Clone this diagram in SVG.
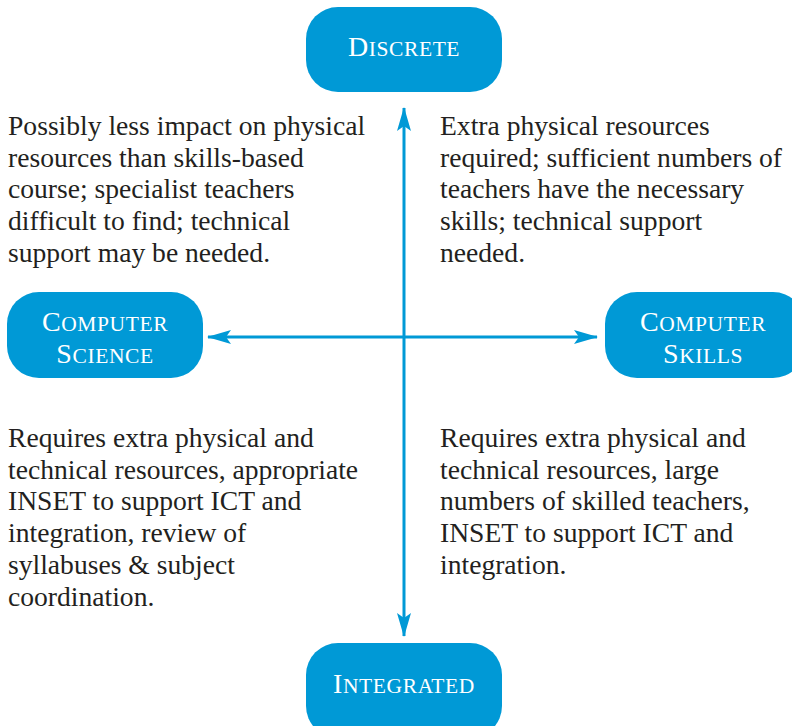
<svg xmlns="http://www.w3.org/2000/svg" width="792" height="726" viewBox="0 0 792 726">
<style>
.box{fill:#0099d6}
.lbl{font-family:"Liberation Serif",serif;fill:#fff;font-size:28px;text-anchor:middle;letter-spacing:0.6px}
.sc{font-size:21.5px}
.body{font-family:"Liberation Serif",serif;fill:#231f20;font-size:27.6px}
.con{stroke:#0099d6;stroke-width:3;fill:none}
</style>
<defs>
<marker id="ah" viewBox="0 0 24 14" refX="23" refY="7" markerWidth="24" markerHeight="14" markerUnits="userSpaceOnUse" orient="auto-start-reverse">
<path d="M0,0 L24,7 L0,14 L5,7 Z" fill="#0099d6"/>
</marker>
</defs>
<rect width="792" height="726" fill="#fff"/>
<g id="connectors">
<line class="con" x1="404" y1="108" x2="404" y2="636" marker-start="url(#ah)" marker-end="url(#ah)"/>
<line class="con" x1="208" y1="337" x2="597" y2="337" marker-start="url(#ah)" marker-end="url(#ah)"/>
</g>
<g id="discrete">
<rect class="box" x="306" y="7" width="196" height="85" rx="32"/>
<text class="lbl" x="404" y="56">D<tspan class="sc">ISCRETE</tspan></text>
</g>
<g id="computer-science">
<rect class="box" x="7" y="292" width="196" height="86" rx="32"/>
<text class="lbl" x="105" y="331">C<tspan class="sc">OMPUTER</tspan></text>
<text class="lbl" x="105" y="363">S<tspan class="sc">CIENCE</tspan></text>
</g>
<g id="computer-skills">
<rect class="box" x="605" y="292" width="200" height="86" rx="32"/>
<text class="lbl" x="703" y="331">C<tspan class="sc">OMPUTER</tspan></text>
<text class="lbl" x="703" y="363">S<tspan class="sc">KILLS</tspan></text>
</g>
<g id="integrated">
<rect class="box" x="306" y="643" width="196" height="95" rx="32"/>
<text class="lbl" x="404" y="693">I<tspan class="sc">NTEGRATED</tspan></text>
</g>
<g id="text-top-left">
<text class="body" x="8" y="135">Possibly less impact on physical</text>
<text class="body" x="8" y="167">resources than skills-based</text>
<text class="body" x="8" y="198">course; specialist teachers</text>
<text class="body" x="8" y="230">difficult to find; technical</text>
<text class="body" x="8" y="262">support may be needed.</text>
</g>
<g id="text-top-right">
<text class="body" x="440" y="135">Extra physical resources</text>
<text class="body" x="440" y="167">required; sufficient numbers of</text>
<text class="body" x="440" y="198">teachers have the necessary</text>
<text class="body" x="440" y="230">skills; technical support</text>
<text class="body" x="440" y="262">needed.</text>
</g>
<g id="text-bottom-left">
<text class="body" x="8" y="447">Requires extra physical and</text>
<text class="body" x="8" y="479">technical resources, appropriate</text>
<text class="body" x="8" y="510">INSET to support ICT and</text>
<text class="body" x="8" y="542">integration, review of</text>
<text class="body" x="8" y="574">syllabuses &amp; subject</text>
<text class="body" x="8" y="606">coordination.</text>
</g>
<g id="text-bottom-right">
<text class="body" x="440" y="447">Requires extra physical and</text>
<text class="body" x="440" y="479">technical resources, large</text>
<text class="body" x="440" y="510">numbers of skilled teachers,</text>
<text class="body" x="440" y="542">INSET to support ICT and</text>
<text class="body" x="440" y="574">integration.</text>
</g>
</svg>
